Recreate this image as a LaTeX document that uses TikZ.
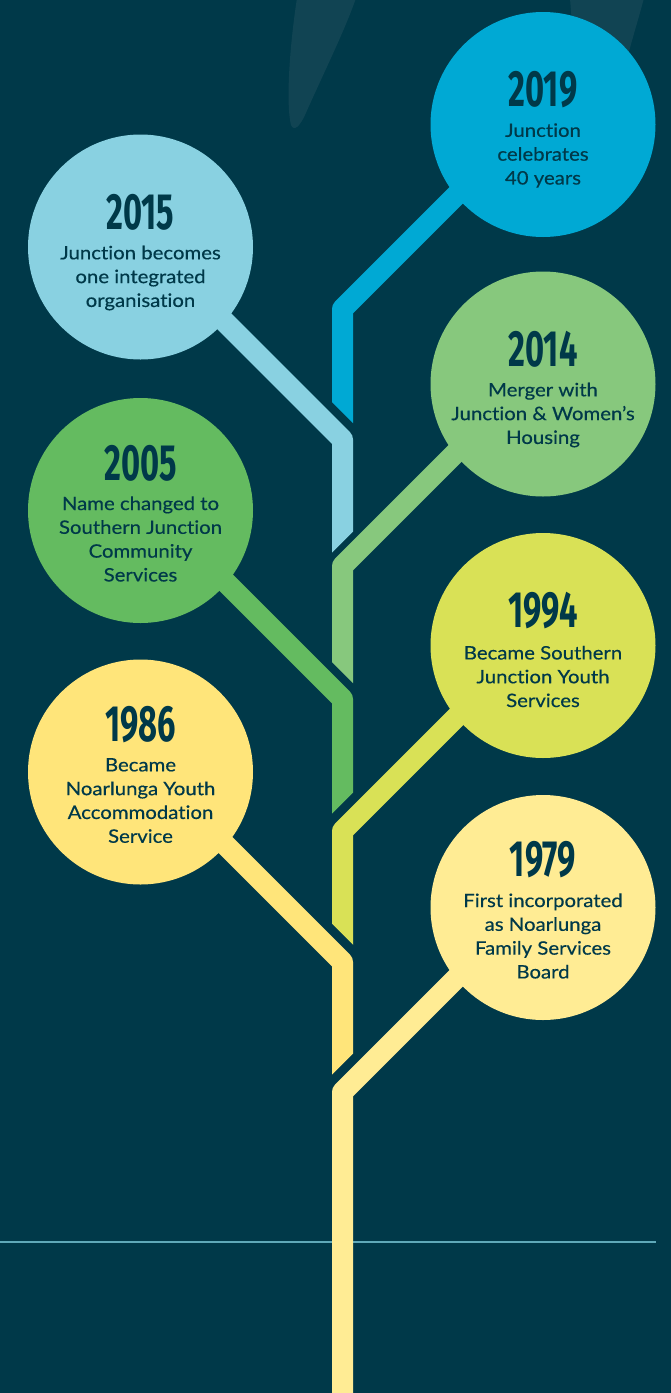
\documentclass[tikz,border=0pt]{standalone}
\usepackage{fontspec}
\newfontfamily\yearfont[FakeStretch=0.64]{Fira Sans}
\newfontfamily\bodyfont[FakeBold=0.4,FakeStretch=1.1,Ligatures={NoCommon}]{Lato}
\definecolor{bg}{RGB}{0,57,73}
\definecolor{ink}{RGB}{0,57,73}
\definecolor{leaf}{RGB}{17,68,83}
\definecolor{hl}{RGB}{95,169,185}
\definecolor{cA}{RGB}{0,169,212}
\definecolor{cB}{RGB}{137,209,225}
\definecolor{cC}{RGB}{135,200,125}
\definecolor{cD}{RGB}{100,187,96}
\definecolor{cE}{RGB}{217,225,86}
\definecolor{cF}{RGB}{255,229,122}
\definecolor{cG}{RGB}{255,236,148}
\tikzset{
  bubble/.style={circle, minimum size=225pt, inner sep=0pt, draw=none},
  yr/.style={font=\yearfont\bfseries\fontsize{51}{51}\selectfont, text=ink, inner sep=0pt},
  desc/.style={font=\bodyfont\fontsize{18.5}{23.8}\selectfont, text=ink, align=center, inner sep=0pt},
  branch/.style={line width=21pt, line join=round},
  hline/.style={draw=hl, line width=2pt}
}
\begin{document}
\begin{tikzpicture}[x=1pt,y=-1pt]
\fill[bg] (0,0) rectangle (671,1393);
\useasboundingbox (0,0) rectangle (671,1393);
% faint background shapes
\fill[leaf] (297,-2) .. controls (289,50) and (286,105) .. (291,125) .. controls (294,132) and (300,126) .. (305,115) .. controls (325,70) and (345,30) .. (356,-2) -- cycle;
\fill[leaf] (570,-2) .. controls (573,40) and (578,80) .. (590,130) -- (610,130) .. controls (625,60) and (637,25) .. (644,-2) -- cycle;
% horizontal rule
\coordinate (hlA) at (0,1242);
\coordinate (hlB) at (656,1242);
\draw[hline] (hlA) -- (hlB);
% branch coordinates
\coordinate (eA) at (522.5,129);   \coordinate (bA) at (342.5,309);  \coordinate (sA) at (342.5,460);
\coordinate (eB) at (152.5,249.5); \coordinate (bB) at (342.5,439.5);\coordinate (sB) at (342.5,590);
\coordinate (eC) at (522.5,386);   \coordinate (bC) at (342.5,566);  \coordinate (sC) at (342.5,720);
\coordinate (eD) at (152.5,509);   \coordinate (bD) at (342.5,699);  \coordinate (sD) at (342.5,850);
\coordinate (eE) at (522.5,651);   \coordinate (bE) at (342.5,831);  \coordinate (sE) at (342.5,980);
\coordinate (eF) at (152.5,772);   \coordinate (bF) at (342.5,962);  \coordinate (sF) at (342.5,1110);
\coordinate (eG) at (522.5,912);   \coordinate (bG) at (342.5,1092); \coordinate (sG) at (342.5,1400);
% branches (right-hand ones cut along slope +1, left-hand ones along slope -1)
\begin{scope}\clip (-100,-30) -- (800,870) -- (800,-100) -- (-100,-100) -- cycle;
\draw[branch, cA] (eA) -- (bA) -- (sA);\end{scope}
\begin{scope}\clip (-100,984.5) -- (800,84.5) -- (800,-100) -- (-100,-100) -- cycle;
\draw[branch, cB] (eB) -- (bB) -- (sB);\end{scope}
\begin{scope}\clip (-100,230) -- (800,1130) -- (800,-100) -- (-100,-100) -- cycle;
\draw[branch, cC] (eC) -- (bC) -- (sC);\end{scope}
\begin{scope}\clip (-100,1245.5) -- (800,345.5) -- (800,-100) -- (-100,-100) -- cycle;
\draw[branch, cD] (eD) -- (bD) -- (sD);\end{scope}
\begin{scope}\clip (-100,491.5) -- (800,1391.5) -- (800,-100) -- (-100,-100) -- cycle;
\draw[branch, cE] (eE) -- (bE) -- (sE);\end{scope}
\begin{scope}\clip (-100,1506.5) -- (800,606.5) -- (800,-100) -- (-100,-100) -- cycle;
\draw[branch, cF] (eF) -- (bF) -- (sF);\end{scope}
\draw[branch, cG] (eG) -- (bG) -- (sG);
% bubbles
\node[bubble, fill=cA] (nA) at (543,124.5) {};
\node[bubble, fill=cB] (nB) at (140.5,247) {};
\node[bubble, fill=cC] (nC) at (543,384) {};
\node[bubble, fill=cD] (nD) at (140.5,510.5) {};
\node[bubble, fill=cE] (nE) at (543,645.5) {};
\node[bubble, fill=cF] (nF) at (140.5,772) {};
\node[bubble, fill=cG] (nG) at (543,907.5) {};
% texts
\node[yr] (yA) at (543,89.5) {2019};
\node[desc] (tA) at (543,155.5) {Junction\\celebrates\\40 years};
\node[yr] (yB) at (140.5,212) {2015};
\node[desc] (tB) at (140.5,278) {Junction becomes\\one integrated\\organisation};
\node[yr] (yC) at (543,349) {2014};
\node[desc] (tC) at (543,415) {Merger with\\Junction \& Women’s\\Housing};
\node[yr] (yD) at (140.5,463) {2005};
\node[desc] (tD) at (140.5,539) {Name changed to\\Southern Junction\\Community\\Services};
\node[yr] (yE) at (543,610.5) {1994};
\node[desc] (tE) at (543,676.5) {Became Southern\\Junction Youth\\Services};
\node[yr] (yF) at (140.5,724.5) {1986};
\node[desc] (tF) at (140.5,800.5) {Became\\Noarlunga Youth\\Accommodation\\Service};
\node[yr] (yG) at (543,860) {1979};
\node[desc] (tG) at (543,936) {First incorporated\\as Noarlunga\\Family Services\\Board};
\end{tikzpicture}
\end{document}
